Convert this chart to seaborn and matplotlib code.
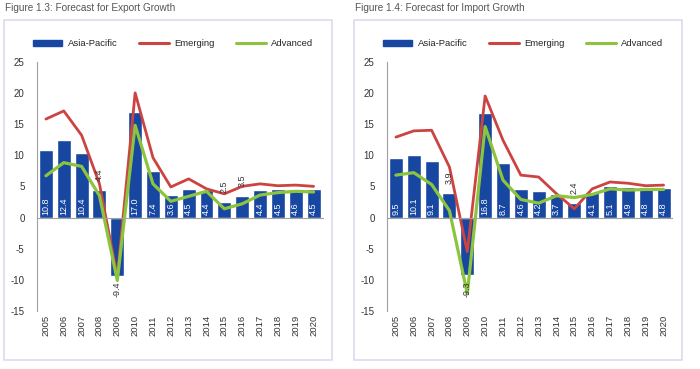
import matplotlib
matplotlib.use('AGG')

import matplotlib.pyplot as plt
import seaborn as sns
import numpy as np
from matplotlib.patches import Patch, Rectangle
from matplotlib.lines import Line2D

years = [str(y) for y in range(2005, 2021)]

# Figure 1.3 - exports
export_asia = [10.8, 12.4, 10.4, 4.4, -9.4, 17.0, 7.4, 3.6, 4.5, 4.4, 2.5, 3.5, 4.4, 4.5, 4.6, 4.5]
export_emerging = [15.8, 17.1, 13.2, 5.4, -9.5, 20.0, 9.6, 4.9, 6.2, 4.6, 3.8, 5.0, 5.4, 5.1, 5.2, 5.0]
export_advanced = [6.7, 8.8, 8.2, 3.5, -10.1, 14.8, 5.4, 2.6, 3.4, 4.2, 1.4, 2.2, 3.6, 4.0, 4.2, 4.1]
export_outside = ['2008', '2009', '2015', '2016']

# Figure 1.4 - imports
import_asia = [9.5, 10.1, 9.1, 3.9, -9.3, 16.8, 8.7, 4.6, 4.2, 3.7, 2.4, 4.1, 5.1, 4.9, 4.8, 4.8]
import_emerging = [12.9, 13.9, 14.0, 8.1, -5.5, 19.5, 12.4, 6.8, 6.5, 3.8, 1.4, 4.6, 5.7, 5.5, 5.1, 5.2]
import_advanced = [6.8, 7.2, 5.3, 1.1, -12.2, 14.6, 6.0, 2.9, 2.3, 3.5, 3.2, 3.7, 4.6, 4.4, 4.5, 4.5]
import_outside = ['2008', '2009', '2015']

BLUE = '#1747a0'
RED = '#cc4441'
GREEN = '#8dc43f'
GRID = '#a0a0a0'
W, H = 700, 369

sns.set_style('white')
plt.rcParams['font.family'] = ['Liberation Sans', 'DejaVu Sans']
plt.rcParams['axes.unicode_minus'] = False


def draw_panel(fig, left, title, asia, emerging, advanced, outside):
    # frame + title
    fig.patches.append(Rectangle(((left - 33) / W, 1 - 360 / H), 328 / W, 340 / H,
                                 transform=fig.transFigure, fill=False,
                                 ec='#dadaf0', lw=1.2))
    fig.text((left - 32) / W, 1 - 8 / H, title, fontsize=7.2, color='#555555', va='center')

    ax = fig.add_axes([left / W, 1 - 311 / H, 285.5 / W, 249.3 / H])
    pos = np.arange(len(years))
    sns.barplot(x=years, y=asia, color=BLUE, width=0.78, saturation=1, ax=ax)
    sns.lineplot(x=pos, y=emerging, color=RED, lw=2.0, ax=ax)
    sns.lineplot(x=pos, y=advanced, color=GREEN, lw=2.3, ax=ax)

    for i, v in enumerate(asia):
        if years[i] in outside:
            if v < 0:
                ax.text(i, v - 0.9, f'{v:.1f}', rotation=90, ha='center', va='top',
                        fontsize=6.5, color='#333333')
            else:
                ax.text(i, v + 1.4, f'{v:.1f}', rotation=90, ha='center', va='bottom',
                        fontsize=6.5, color='#333333')
        else:
            ax.text(i, 0.4, f'{v:.1f}', rotation=90, ha='center', va='bottom',
                    fontsize=6.5, color='white')

    ax.set_xlim(-0.5, len(years) - 0.5)
    ax.set_ylim(-15, 25)
    ax.set_yticks(range(-15, 30, 5))
    ax.set_xlabel('')
    ax.set_ylabel('')
    for s in ['top', 'right']:
        ax.spines[s].set_visible(False)
    ax.spines['left'].set_color(GRID)
    ax.spines['bottom'].set_color(GRID)
    ax.spines['bottom'].set_position(('data', 0))
    ax.tick_params(axis='y', length=3, color=GRID, labelsize=7, labelcolor='#333333', pad=6)
    ax.set_xticks(pos)
    ax.set_xticklabels([])
    ax.tick_params(axis='x', which='major', length=0)
    ax.set_xticks(np.arange(-0.5, len(years), 1), minor=True)
    ax.tick_params(axis='x', which='minor', length=3, color=GRID, direction='out')

    sec = ax.secondary_xaxis(0)
    sec.set_xticks(pos, years, rotation=90)
    sec.tick_params(length=0, pad=3, labelsize=6.8, labelcolor='#333333')
    sec.spines['bottom'].set_visible(False)

    handles = [Patch(color=BLUE, label='Asia-Pacific'),
               Line2D([], [], color=RED, lw=2.2, label='Emerging'),
               Line2D([], [], color=GREEN, lw=2.2, label='Advanced')]
    fig.legend(handles=handles, ncol=3, loc='center left', frameon=False,
               bbox_to_anchor=((left - 4) / W, 1 - 44 / H), bbox_transform=fig.transFigure,
               fontsize=6.8, handlelength=3.1, handleheight=0.6, handletextpad=0.6,
               columnspacing=2.3, borderaxespad=0, borderpad=0)
    return ax


fig = plt.figure(figsize=(7, 3.69), dpi=100)
draw_panel(fig, 37, 'Figure 1.3: Forecast for Export Growth',
           export_asia, export_emerging, export_advanced, export_outside)
draw_panel(fig, 387, 'Figure 1.4: Forecast for Import Growth',
           import_asia, import_emerging, import_advanced, import_outside)

fig.savefig('out.png', dpi=100)
